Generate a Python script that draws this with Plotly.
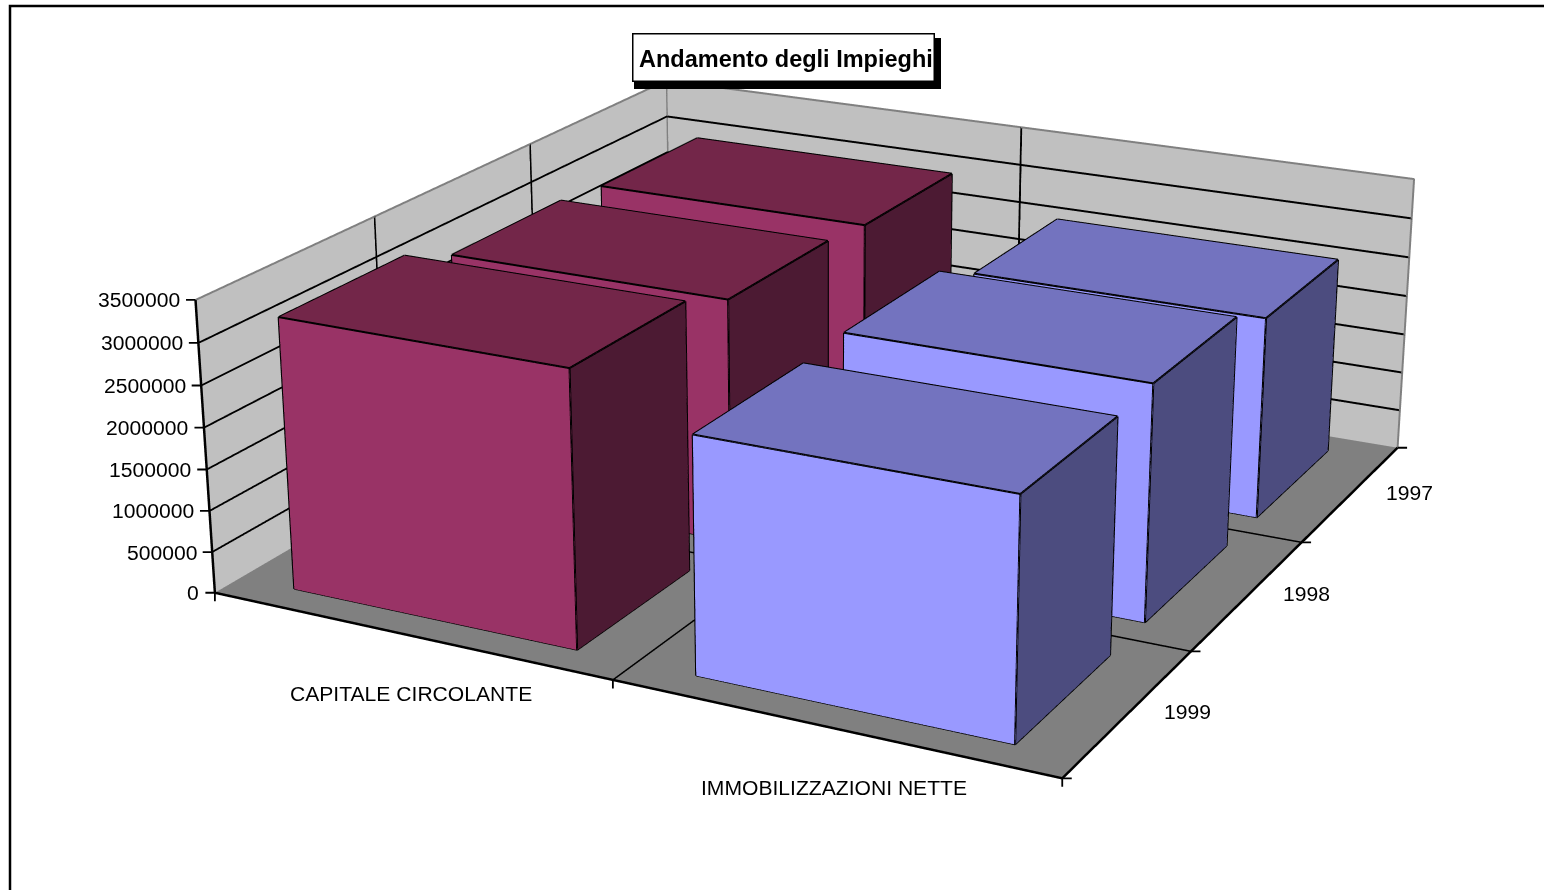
import plotly.graph_objects as go

# ---- chart data ----
categories = ["CAPITALE CIRCOLANTE", "IMMOBILIZZAZIONI NETTE"]
years = ["1999", "1998", "1997"]
capitale_circolante = [3264000, 2990000, 2914000]
immobilizzazioni_nette = [2765000, 2818000, 2505000]
z_ticks = [0, 500000, 1000000, 1500000, 2000000, 2500000, 3000000, 3500000]
title_text = "Andamento degli Impieghi"

# ---- style / layout ----
PAGE_W, LAY_H, TOP = 1544, 2920, -1015
GAP = 0.142
FONT = "Liberation Sans, Arial, sans-serif"
COL = [dict(front="#993366", top="#732649", side="#4C1A33"),
       dict(front="#9999FF", top="#7373BF", side="#4C4C7F")]
ZMAX = z_ticks[-1]

def px(x): return x / PAGE_W
def py(y): return 1 - (y - TOP) / LAY_H

fig = go.Figure()
ex, ey, ez = [], [], []
for ci, series in enumerate([capitale_circolante, immobilizzazioni_nette]):
    xs, ys, zs, I, J, K, fc = [], [], [], [], [], [], []
    for yi, v in enumerate(series):
        x0, x1 = ci + GAP, ci + 1 - GAP
        y0, y1 = yi + GAP, yi + 1 - GAP
        n = len(xs)
        xs += [x0, x1, x1, x0, x0, x1, x1, x0]
        ys += [y0, y0, y1, y1, y0, y0, y1, y1]
        zs += [0, 0, 0, 0, v, v, v, v]
        faces = [((0, 1, 5), "front"), ((0, 5, 4), "front"),
                 ((4, 5, 6), "top"), ((4, 6, 7), "top"),
                 ((1, 2, 6), "side"), ((1, 6, 5), "side"),
                 ((3, 0, 4), "side"), ((3, 4, 7), "side"),
                 ((2, 3, 7), "front"), ((2, 7, 6), "front"),
                 ((0, 2, 1), "top"), ((0, 3, 2), "top")]
        for (a, b, c), f in faces:
            I.append(n + a); J.append(n + b); K.append(n + c); fc.append(COL[ci][f])
        for a, b in [(0,1),(1,2),(2,3),(3,0),(4,5),(5,6),(6,7),(7,4),(0,4),(1,5),(2,6),(3,7)]:
            ex += [xs[n + a], xs[n + b], None]
            ey += [ys[n + a], ys[n + b], None]
            ez += [zs[n + a], zs[n + b], None]
    fig.add_trace(go.Mesh3d(x=xs, y=ys, z=zs, i=I, j=J, k=K, facecolor=fc, flatshading=True,
                            lighting=dict(ambient=1, diffuse=0, specular=0, roughness=1, fresnel=0),
                            hoverinfo="skip", showscale=False))
fig.add_trace(go.Scatter3d(x=ex, y=ey, z=ez, mode="lines", line=dict(color="black", width=4),
                           hoverinfo="skip", showlegend=False))

NX, NY = len(categories), len(years)
# grey wall outline
fig.add_trace(go.Scatter3d(x=[0, 0, NX, NX, None, 0, 0], y=[0, NY, NY, NY, None, NY, NY],
                           z=[ZMAX, ZMAX, ZMAX, 0, None, 0, ZMAX], mode="lines",
                           line=dict(color="#808080", width=4), hoverinfo="skip", showlegend=False))
# black axis edges
fig.add_trace(go.Scatter3d(x=[0, 0, NX, NX], y=[0, 0, 0, NY], z=[ZMAX, 0, 0, 0], mode="lines",
                           line=dict(color="black", width=5), hoverinfo="skip", showlegend=False))

def note(x, y, z, text, **kw):
    return dict(x=x, y=y, z=z, text=text, showarrow=False, font=dict(family=FONT, size=21.1, color="black"), **kw)
def tick(x, y, z, ax, ay):
    return dict(x=x, y=y, z=z, text="", showarrow=True, arrowhead=0, arrowwidth=1.8, arrowcolor="black",
                ax=ax, ay=ay, standoff=0, startstandoff=0)

ann = []
for v in z_ticks:
    ann.append(note(0, 0, v, str(v), xanchor="right", xshift=-13.5))
    ann.append(tick(0, 0, v, -11, 0))
for i, c in enumerate(categories):
    ann.append(note(i + 0.5, 0, 0, c, yshift=-58 - 2 * i, xshift=3))
for i in range(NX + 1):
    ann.append(tick(i, 0, 0, 0, 10))
for i, y in enumerate(years):
    ann.append(note(NX, i + 0.5, 0, y, xshift=58, yshift=1))
for i in range(NY + 1):
    ann.append(tick(NX, i, 0, 11, 0))

axis = dict(showticklabels=False, ticks="", title="", showspikes=False, zeroline=False, showline=False,
            showgrid=True, gridcolor="black", gridwidth=4, showbackground=True)
fig.update_layout(
    width=PAGE_W, height=LAY_H, margin=dict(l=0, r=0, t=0, b=0), showlegend=False,
    paper_bgcolor="white", plot_bgcolor="white", hovermode=False,
    scene=dict(
        domain=dict(x=[0, 1], y=[0, 1]),
        xaxis=dict(axis, range=[0, NX], tickvals=list(range(1, NX)), backgroundcolor="#C0C0C0"),
        yaxis=dict(axis, range=[0, NY], tickvals=list(range(1, NY)), backgroundcolor="#C0C0C0"),
        zaxis=dict(axis, range=[0, ZMAX], tickvals=z_ticks[1:-1], backgroundcolor="#808080"),
        aspectmode="manual", aspectratio=dict(x=1, y=1.01, z=0.3348),
        camera=dict(eye=dict(x=1.6869, y=-3.3393, z=1.3305),
                    center=dict(x=-0.5334, y=0.8534, z=-0.4578),
                    up=dict(x=-1.041, y=1.9862, z=1),
                    projection=dict(type="perspective")),
        annotations=ann,
    ),
    shapes=[dict(type="path", xref="paper", yref="paper",
                 path=f"M {px(10)} {py(900)} L {px(10)} {py(6)} L {px(1544)} {py(6)}",
                 line=dict(color="black", width=2.5))],
    annotations=[
        dict(xref="paper", yref="paper", x=px(787.5), y=py(63.5), text=" ", showarrow=False, width=307, height=51,
             bgcolor="black", borderpad=0, borderwidth=0),
        dict(xref="paper", yref="paper", x=px(783), y=py(58), text=" ", showarrow=False,
             width=300, height=46, bgcolor="white", bordercolor="black", borderwidth=1.5, borderpad=0),
        dict(xref="paper", yref="paper", x=px(785.5), y=py(59), text="<b>" + title_text + "</b>", showarrow=False,
             font=dict(family=FONT, size=23.5, color="black")),
    ],
)
post = ("var gd=document.getElementById('{plot_id}');"
        "document.documentElement.style.overflow='hidden';document.body.style.margin='0';"
        "document.body.style.overflow='hidden';gd.style.position='absolute';gd.style.left='0px';"
        f"gd.style.top='{TOP}px';")
fig.write_html("out.html", post_script=post, config=dict(displayModeBar=False))
